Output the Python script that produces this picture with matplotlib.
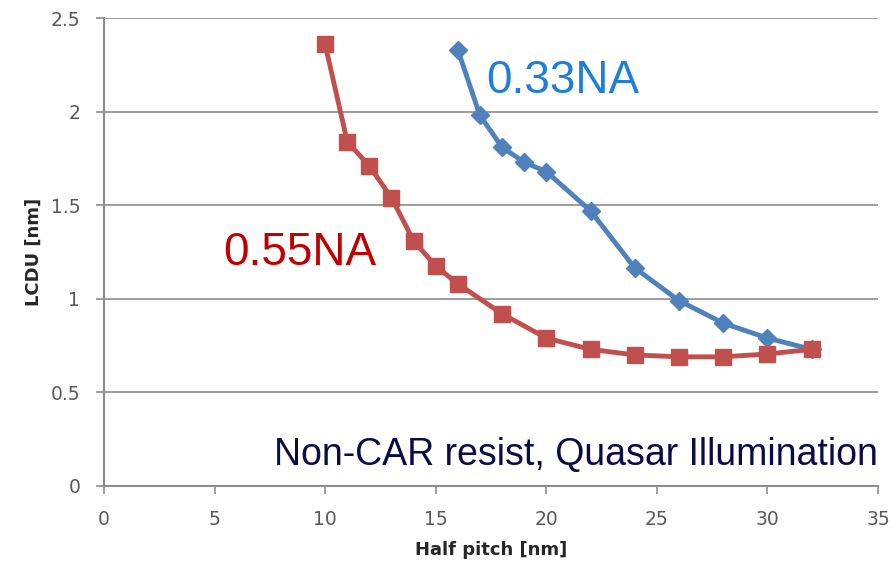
import matplotlib
matplotlib.use('Agg')
import matplotlib.pyplot as plt

# data
pitch_055 = [10, 11, 12, 13, 14, 15, 16, 18, 20, 22, 24, 26, 28, 30, 32]
lcdu_055 = [2.36, 1.84, 1.71, 1.54, 1.31, 1.175, 1.08, 0.92, 0.79, 0.73, 0.70, 0.69, 0.69, 0.705, 0.73]

pitch_033 = [16, 17, 18, 19, 20, 22, 24, 26, 28, 30, 32]
lcdu_033 = [2.33, 1.98, 1.81, 1.73, 1.68, 1.47, 1.165, 0.99, 0.87, 0.79, 0.73]

x_ticks = [0, 5, 10, 15, 20, 25, 30, 35]
y_ticks = [0, 0.5, 1, 1.5, 2, 2.5]
y_labels = ['0', '0.5', '1', '1.5', '2', '2.5']

fig = plt.figure(figsize=(8.96, 5.67), dpi=100)
ax = fig.add_axes([0.116, 0.143, 0.864, 0.825])

ax.plot(pitch_033, lcdu_033, color='#4F81BD', lw=3.5, marker='D', ms=9,
        markeredgecolor='#4F81BD', zorder=3)
ax.plot(pitch_055, lcdu_055, color='#C0504D', lw=3.5, marker='s', ms=11,
        markeredgecolor='#C0504D', zorder=4)

ax.set_xlim(0, 35)
ax.set_ylim(0, 2.5)
ax.set_xticks(x_ticks)
ax.set_yticks(y_ticks)
ax.set_yticklabels(y_labels)
ax.tick_params(axis='both', colors='#8C8C8C', labelcolor='#595959', labelsize=13.5,
               length=6, width=1.2, direction='out')
ax.tick_params(axis='x', pad=11)
ax.tick_params(axis='y', pad=11)
ax.grid(axis='y', color='#8C8C8C', lw=1.2)
ax.set_axisbelow(True)
for s in ['top', 'right']:
    ax.spines[s].set_visible(False)
for s in ['left', 'bottom']:
    ax.spines[s].set_color('#8C8C8C')
    ax.spines[s].set_linewidth(1.5)

ax.set_xlabel('Half pitch [nm]', fontsize=13, fontweight='bold', color='#262626', labelpad=9)
ax.set_ylabel('LCDU [nm]', fontsize=13, fontweight='bold', color='#262626', labelpad=6)

ax.text(17.3, 2.1, '0.33NA', color='#1F7FD8', fontsize=33, family='Liberation Sans')
ax.text(5.4, 1.18, '0.55NA', color='#C00000', fontsize=33, family='Liberation Sans')
ax.text(35, 0.11, 'Non-CAR resist, Quasar Illumination', color='#0B0B45', fontsize=27,
        family='Liberation Sans', ha='right')

fig.savefig('out.png', dpi=100)
